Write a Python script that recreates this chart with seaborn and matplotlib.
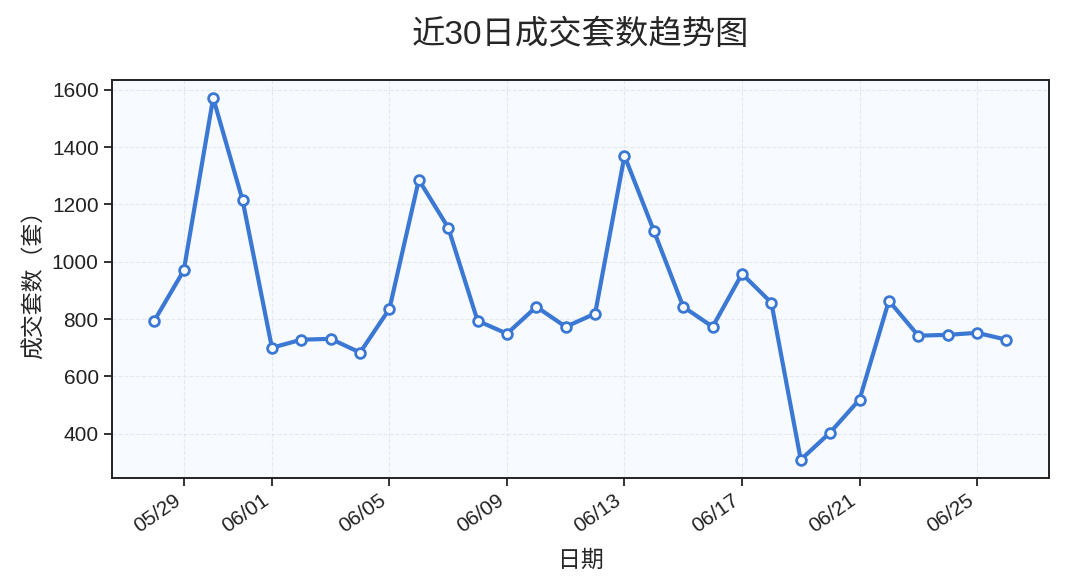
import matplotlib
matplotlib.use("Agg")
import matplotlib.pyplot as plt
import matplotlib.dates as mdates
import seaborn as sns
import pandas as pd
import numpy as np

dates = pd.date_range("2024-05-28", "2024-06-26", freq="D")
counts = [795, 970, 1572, 1215, 700, 728, 731, 683, 836, 1286,
          1119, 794, 749, 843, 773, 819, 1370, 1108, 843, 773,
          958, 857, 309, 404, 519, 864, 742, 745, 752, 728]

title = "近30日成交套数趋势图"
xlabel = "日期"
ylabel = "成交套数（套）"

df = pd.DataFrame({"date": dates, "count": counts})

sns.set_theme(style="ticks")
plt.rcParams['font.family'] = ['Liberation Sans', 'Noto Sans CJK SC', 'DejaVu Sans']
plt.rcParams['axes.unicode_minus'] = False

fig, ax = plt.subplots(figsize=(10.65, 5.87), dpi=100)
ax.set_facecolor("#f7fafe")
sns.lineplot(data=df, x="date", y="count", ax=ax, color="#3a78d4",
             linewidth=3.0, marker="o", markersize=7,
             markerfacecolor="white", markeredgecolor="#3a78d4",
             markeredgewidth=2.0)

ax.xaxis.set_major_locator(mdates.DayLocator(bymonthday=[1, 5, 9, 13, 17, 21, 25, 29]))
ax.xaxis.set_major_formatter(mdates.DateFormatter("%m/%d"))
ax.grid(True, linestyle="--", color="#dfe6ee", linewidth=0.8, alpha=0.8)
ax.set_axisbelow(True)
for s in ax.spines.values():
    s.set_color("#222222")
    s.set_linewidth(1.4)
ax.tick_params(axis="both", labelsize=15, colors="#222222", length=6, width=1.3)

ax.set_title(title, fontsize=24, pad=26)
ax.set_xlabel(xlabel, fontsize=16.5, labelpad=9)
ax.set_ylabel(ylabel, fontsize=16.5, labelpad=4)
plt.setp(ax.get_xticklabels(), rotation=35, ha="right", rotation_mode="default")

fig.subplots_adjust(left=0.105, right=0.985, top=0.864, bottom=0.186)
fig.savefig("out.png", dpi=100)
